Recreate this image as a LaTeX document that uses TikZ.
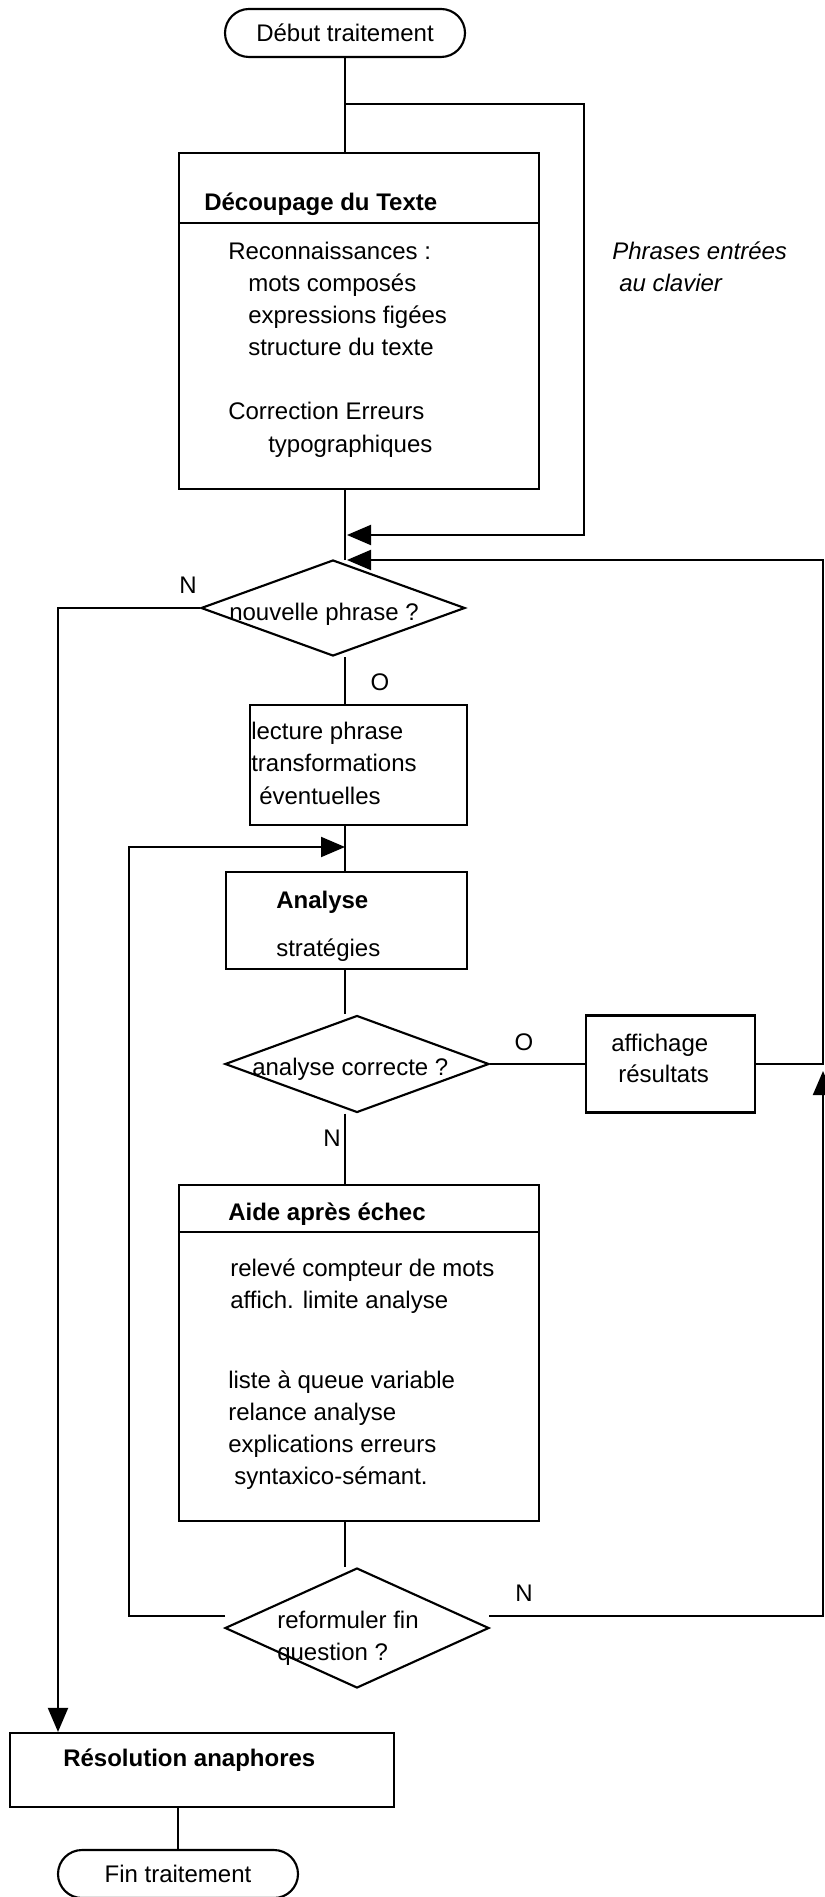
\documentclass[tikz,border=0pt]{standalone}
\usepackage{fontspec}
\setmainfont{Liberation Sans}
\usetikzlibrary{shapes.geometric,arrows.meta}
\newlength\px
\setlength\px{0.75pt}
\begin{document}
\begin{tikzpicture}[x=0.75pt, y=-0.75pt, font=\fontsize{18}{24}\selectfont,
	boite/.style={draw, line width=1.6pt, inner sep=0pt},
	losange/.style={diamond, draw, line width=1.6pt, inner sep=0pt},
	terminal/.style={draw, line width=1.6pt, rounded corners=18pt,
		minimum width=240\px, minimum height=48\px},
	texte/.style={anchor=base west, inner sep=0pt},
	lien/.style={line width=1.5pt},
	fleche/.style={lien, -{Triangle[length=18pt,width=15pt]}}]
		\useasboundingbox (0,0) rectangle (824,1897);
		% début et fin
		\node[terminal] (debut) at (345,33) {Début traitement};
		\node[terminal] (fin) at (178,1874) {Fin traitement};
		% blocs
		\node[boite, minimum width=360\px, minimum height=336\px] (decoupage) at (359,321) {};
		\draw[line width=1.6pt] (decoupage.west |- 0,223) -- (decoupage.east |- 0,223);
		\node[boite, minimum width=217\px, minimum height=120\px] (lecture) at (358.5,765) {};
		\node[boite, minimum width=241\px, minimum height=97\px] (analyse) at (346.5,920.5) {};
		\node[boite, minimum width=169\px, minimum height=97\px] (affichage) at (670.5,1064) {};
		\node[boite, minimum width=360\px, minimum height=336\px] (aide) at (359,1353) {};
		\draw[line width=1.6pt] (aide.west |- 0,1232) -- (aide.east |- 0,1232);
		\node[boite, minimum width=384\px, minimum height=74\px] (resolution) at (202,1770) {};
		% tests
		\node[losange, minimum width=264\px, minimum height=96\px] (nouvelle) at (333,608) {};
		\node[losange, minimum width=264\px, minimum height=97\px] (correcte) at (357,1064) {};
		\node[losange, minimum width=264\px, minimum height=120\px] (reformuler) at (357,1628) {};
		% titres
		\node[texte] (tdecoupage) at (204,211) {\bfseries Découpage du Texte};
		\node[texte] (tanalyse) at (276,908) {\bfseries Analyse};
		\node[texte] (taide) at (228,1220) {\bfseries Aide après échec};
		\node[texte] (tresolution) at (63,1766) {\bfseries Résolution anaphores};
		% lignes de texte
		\foreach \x/\y/\val [count=\i] in {228/260/Reconnaissances :, 248/292/mots composés,
			248/324/expressions figées, 248/356/structure du texte,
			228/420/Correction Erreurs, 268/452/typographiques}{
			\node[texte] (dec\i) at (\x,\y) {\val};
		}
		\node[texte] (clavier1) at (612,260) {\itshape Phrases entrées};
		\node[texte] (clavier2) at (619,292) {\itshape au clavier};
		\node[texte] (qnouvelle) at (229,620) {nouvelle phrase ?};
		\foreach \x/\y/\val [count=\i] in {251/739/lecture phrase,
			251/771/transformations, 259/804/éventuelles}{
			\node[texte] (lec\i) at (\x,\y) {\val};
		}
		\node[texte] (strat) at (276,956) {stratégies};
		\node[texte] (qcorrecte) at (252,1075) {analyse correcte ?};
		\node[texte] (aff1) at (611,1051) {affichage};
		\node[texte] (aff2) at (618,1082) {résultats};
		\foreach \x/\y/\val [count=\i] in {230/1276/relevé compteur de mots,
			230/1308/affich. limite analyse, 228/1388/liste à queue variable,
			228/1420/relance analyse, 228/1452/explications erreurs,
			234/1484/syntaxico-sémant.}{
			\node[texte] (aid\i) at (\x,\y) {\val};
		}
		\node[texte] (qref1) at (277,1628) {reformuler fin};
		\node[texte] (qref2) at (277,1660) {question ?};
		% réponses O / N
		\foreach \x/\y/\val [count=\i] in {188/585/N, 380/682/O, 524/1042/O,
			332/1138/N, 524/1593/N}{
			\node (rep\i) at (\x,\y) {\val};
		}
		% points de passage
		\coordinate (j2) at (345,560);
		\coordinate (b1) at (345,104);
		\coordinate (r1) at (584,535);
		\coordinate (j1) at (347,535);
		\coordinate (j2f) at (347,560);
		\coordinate (d1) at (823,1064);
		\coordinate (d2) at (823,560);
		\coordinate (d3) at (823,1616);
		\coordinate (d4) at (823,1071);
		\coordinate (refd) at (489,1616);
		\coordinate (refg) at (225,1616);
		\coordinate (g1) at (58,608);
		\coordinate (g2) at (129,1616);
		\coordinate (g3) at (129,847);
		\coordinate (j3) at (345,847);
		% liaisons
		\draw[lien] (debut.south) -- (debut.south |- decoupage.north);
		\draw[fleche] (b1) -| (r1) -- (j1);
		\draw[lien] (decoupage.south -| j2) -- (j2);
		\draw[fleche] (affichage.east) -- (d1) -- (d2) -- (j2f);
		\draw[fleche] (refd) -- (d3) -- (d4);
		\draw[fleche] (nouvelle.west) -- (g1) -- (g1 |- resolution.north);
		\draw[lien] (nouvelle.south -| j2) -- (lecture.north -| j2);
		\draw[lien] (lecture.south -| j2) -- (analyse.north -| j2);
		\draw[fleche] (refg) -- (g2) -- (g3) -- (j3);
		\draw[lien] (analyse.south -| j2) -- (correcte.north -| j2);
		\draw[lien] (correcte.east) -- (affichage.west);
		\draw[lien] (correcte.south -| j2) -- (aide.north -| j2);
		\draw[lien] (aide.south -| j2) -- (reformuler.north -| j2);
		\draw[lien] (resolution.south -| fin.north) -- (fin.north);
	\end{tikzpicture}
\end{document}
